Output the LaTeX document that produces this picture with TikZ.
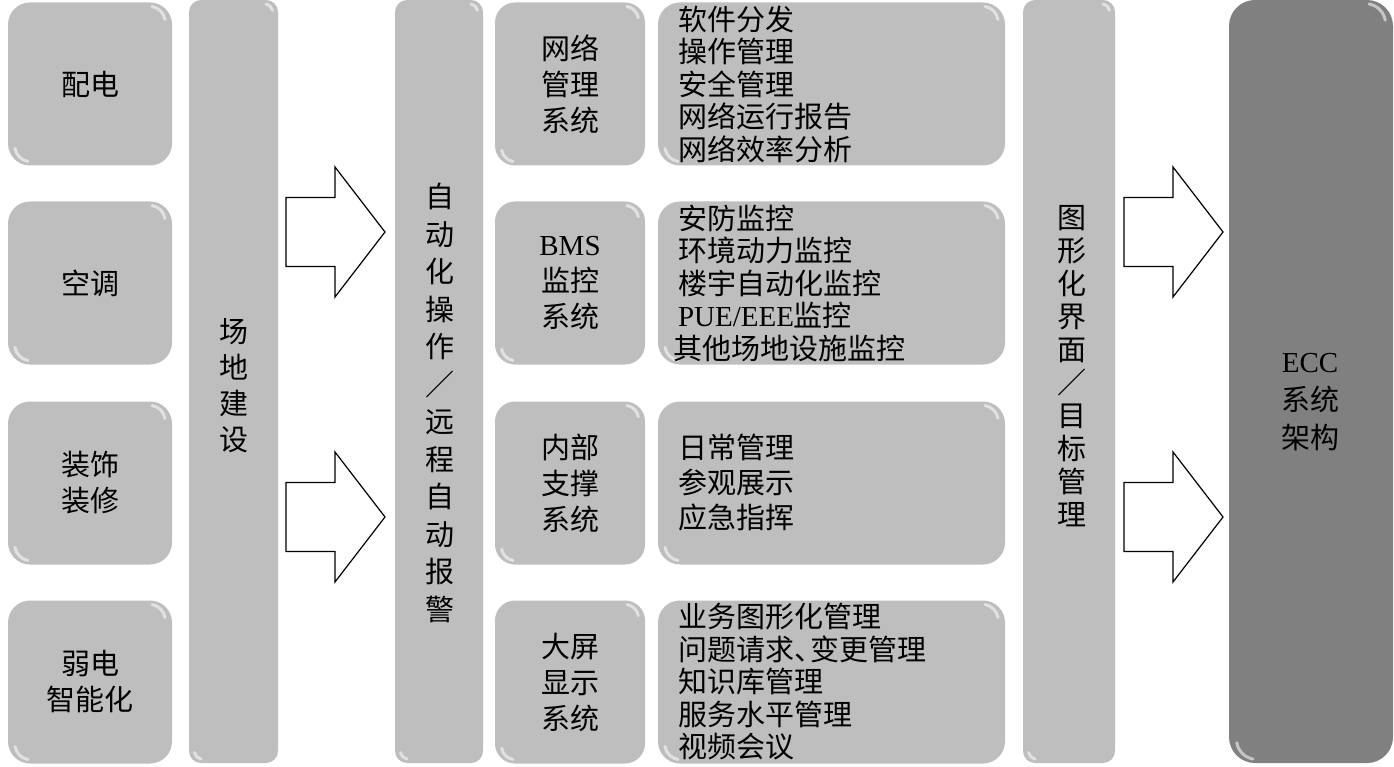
\documentclass[tikz,border=0pt]{standalone}
\usepackage{fontspec}
\setmainfont{Noto Sans CJK SC}
\newfontfamily\lat{Liberation Serif}
\usetikzlibrary{positioning,calc}

\definecolor{boxgray}{RGB}{190,190,190}
\definecolor{eccgray}{RGB}{128,128,128}

% glossy spots on two corners of a box
\tikzset{
  gloss/.style={path picture={
    \draw[white,opacity=0.55,line width=3pt,line cap=round]
      ([xshift=-#1-4pt,yshift=-4pt]path picture bounding box.north east)
      arc[start angle=80,end angle=10,radius=#1];
    \draw[white,opacity=0.55,line width=3pt,line cap=round]
      ([xshift=#1+4pt,yshift=4pt]path picture bounding box.south west)
      arc[start angle=260,end angle=190,radius=#1];
  }},
  bigarrow/.pic={
    \draw[fill=white,line width=1.2pt,line join=miter]
      (-49,-34.5) -- (0,-34.5) -- (0,-65) -- (50,0) -- (0,65)
      -- (0,34.5) -- (-49,34.5) -- cycle;
  }
}

\begin{document}
\begin{tikzpicture}[x=1pt,y=-1pt,
  every node/.style={inner sep=0pt,font=\fontsize{29}{36}\selectfont},
  tile/.style={fill=boxgray,rounded corners=22pt,gloss=16pt,
    minimum width=164pt,minimum height=163pt,align=center},
  sysbox/.style={fill=boxgray,rounded corners=20pt,gloss=14pt,
    minimum width=150pt,minimum height=163pt,align=center},
  itembox/.style={fill=boxgray,rounded corners=22pt,gloss=16pt,
    minimum width=347pt,minimum height=163pt,text width=307pt,align=left,
    font=\fontsize{29}{32.5}\selectfont},
  column/.style={fill=boxgray,rounded corners=12pt,gloss=8pt,
    minimum width=89pt,minimum height=763pt},
  vtext/.style={align=center}]
  \useasboundingbox (0,0) rectangle (1394,767);

  % left tiles
  \node[tile] (pd) at (90,84)  {配电};
  \node[tile] (kt) at (90,283) {空调};
  \node[tile] (zs) at (90,483) {装饰\\装修};
  \node[tile] (rd) at (90,682) {弱电\\智能化};

  % columns
  \node[column] (cd)  at (233.5,381.5) {};
  \node[vtext]  (cdT) at (233.5,386) {场\\地\\建\\设};

  \node[column,minimum width=88pt] (zd)  at (439,381.5) {};
  \node[vtext,font=\fontsize{29}{37.5}\selectfont] (zdT) at (440,403)
    {自\\动\\化\\操\\作\\／\\远\\程\\自\\动\\报\\警};

  \node[column,minimum width=92pt] (tx)  at (1069,381.5) {};
  \node[vtext,font=\fontsize{29}{33}\selectfont] (txT) at (1072,366)
    {图\\形\\化\\界\\面\\／\\目\\标\\管\\理};

  \node[fill=eccgray,rounded corners=26pt,gloss=20pt,
    minimum width=164pt,minimum height=763pt] (ecc) at (1311,381.5) {};
  \node[vtext,font=\fontsize{29}{38}\selectfont] (eccT) at (1310,402)
    {{\lat ECC}\\系统\\架构};

  % systems
  \node[sysbox] (wl)  at (570,84)  {网络\\管理\\系统};
  \node[sysbox] (bms) at (570,283) {{\lat BMS}\\监控\\系统};
  \node[sysbox] (nb)  at (570,483) {内部\\支撑\\系统};
  \node[sysbox] (dp)  at (570,682) {大屏\\显示\\系统};

  \node[itembox] (wlI) at (831.5,84)
    {软件分发\\操作管理\\安全管理\\网络运行报告\\网络效率分析};
  \node[itembox] (bmsI) at (831.5,283)
    {安防监控\\环境动力监控\\楼宇自动化监控\\{\lat PUE/EEE}监控\\\hspace*{-5pt}其他场地设施监控};
  \node[itembox,font=\fontsize{29}{35}\selectfont] (nbI) at (831.5,483)
    {日常管理\\参观展示\\应急指挥};
  \node[itembox] (dpI) at (831.5,682)
    {业务图形化管理\\问题请求、\kern-13pt 变更管理\\知识库管理\\服务水平管理\\视频会议};

  % block arrows
  \pic at (335,232)  {bigarrow};
  \pic at (335,517)  {bigarrow};
  \pic at (1173,232) {bigarrow};
  \pic at (1173,517) {bigarrow};
\end{tikzpicture}
\end{document}
